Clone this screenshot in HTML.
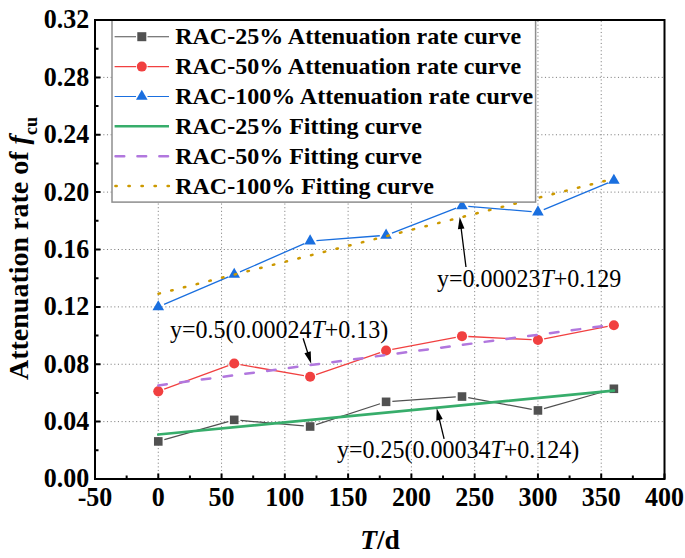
<!DOCTYPE html><html><head><meta charset="utf-8"><style>html,body{margin:0;padding:0;background:#fff;overflow:hidden;}svg{display:block;}text{font-family:"Liberation Serif",serif;}</style></head><body>
<svg width="685" height="558" viewBox="0 0 685 558">
<rect width="685" height="558" fill="#fff"/>
<path d="M158.28 21.0V478.0M221.56 21.0V478.0M284.83 21.0V478.0M348.11 21.0V478.0M411.39 21.0V478.0M474.67 21.0V478.0M537.94 21.0V478.0M601.22 21.0V478.0M96.0 421.62H663.5M96.0 364.25H663.5M96.0 306.88H663.5M96.0 249.50H663.5M96.0 192.12H663.5M96.0 134.75H663.5M96.0 77.38H663.5" stroke="#808080" stroke-width="1" stroke-dasharray="1.1 2.55" fill="none"/>
<path d="M164.34 439.70L228.15 421.57M240.49 420.40L303.87 425.95M316.14 424.56L380.09 403.78M392.36 401.39L455.73 396.99M468.21 397.69L531.75 409.30M544.00 408.71L607.82 390.51" fill="none" stroke="#515151" stroke-width="1.25"/>
<path d="M164.19 389.19L228.30 365.70M240.42 364.61L303.94 375.68M316.10 374.70L380.12 352.55M392.27 349.33L455.82 337.36M468.30 336.51L531.65 339.69M544.13 338.81L607.69 326.44" fill="none" stroke="#F14040" stroke-width="1.3"/>
<path d="M164.07 304.40L228.42 276.93M239.98 271.92L304.38 243.58M316.43 240.56L379.80 235.77M391.95 233.02L456.14 208.17M468.29 206.41L531.67 211.55M543.76 209.64L608.06 182.79" fill="none" stroke="#1A6FDF" stroke-width="1.3"/>
<rect x="153.98" y="437.12" width="8.6" height="8.6" fill="#515151"/>
<rect x="229.91" y="415.55" width="8.6" height="8.6" fill="#515151"/>
<rect x="305.84" y="422.20" width="8.6" height="8.6" fill="#515151"/>
<rect x="381.78" y="397.53" width="8.6" height="8.6" fill="#515151"/>
<rect x="457.71" y="392.25" width="8.6" height="8.6" fill="#515151"/>
<rect x="533.64" y="406.14" width="8.6" height="8.6" fill="#515151"/>
<rect x="609.58" y="384.48" width="8.6" height="8.6" fill="#515151"/>
<circle cx="158.28" cy="391.36" r="5.05" fill="#F14040"/>
<circle cx="234.21" cy="363.53" r="5.05" fill="#F14040"/>
<circle cx="310.14" cy="376.76" r="5.05" fill="#F14040"/>
<circle cx="386.08" cy="350.49" r="5.05" fill="#F14040"/>
<circle cx="462.01" cy="336.19" r="5.05" fill="#F14040"/>
<circle cx="537.94" cy="340.01" r="5.05" fill="#F14040"/>
<circle cx="613.88" cy="325.24" r="5.05" fill="#F14040"/>
<path d="M158.28 300.14L164.08 310.24L152.48 310.24Z" fill="#1A6FDF"/>
<path d="M234.21 267.72L240.01 277.82L228.41 277.82Z" fill="#1A6FDF"/>
<path d="M310.14 234.30L315.94 244.40L304.34 244.40Z" fill="#1A6FDF"/>
<path d="M386.08 228.57L391.88 238.67L380.28 238.67Z" fill="#1A6FDF"/>
<path d="M462.01 199.16L467.81 209.26L456.21 209.26Z" fill="#1A6FDF"/>
<path d="M537.94 205.33L543.74 215.43L532.14 215.43Z" fill="#1A6FDF"/>
<path d="M613.88 173.63L619.68 183.73L608.08 183.73Z" fill="#1A6FDF"/>
<line x1="158.28" y1="434.53" x2="613.88" y2="390.64" stroke="#37AD6B" stroke-width="2.7" stroke-dasharray="none" stroke-linecap="round"/>
<line x1="158.28" y1="385.40" x2="613.88" y2="324.63" stroke="#B177DE" stroke-width="2.5" stroke-dasharray="8.6 13.35" stroke-linecap="round"/>
<line x1="158.28" y1="293.80" x2="613.88" y2="178.67" stroke="#CC9900" stroke-width="2.5" stroke-dasharray="1.5 11.61" stroke-linecap="round" stroke-dashoffset="-0.2"/>
<rect x="112.0" y="20.0" width="423.6" height="182.1" fill="#fff" stroke="#8e8e8e" stroke-width="1.5"/>
<path d="M114.6 36.7H136.0M147.5 36.7H169.0" stroke="#515151" stroke-width="1.15" fill="none"/>
<rect x="137.30" y="32.20" width="9.0" height="9.0" fill="#515151"/>
<path d="M114.6 66.6H136.0M147.5 66.6H169.0" stroke="#F14040" stroke-width="1.15" fill="none"/>
<circle cx="141.80" cy="66.60" r="5.0" fill="#F14040"/>
<path d="M114.6 96.5H136.0M147.5 96.5H169.0" stroke="#1A6FDF" stroke-width="1.15" fill="none"/>
<path d="M141.80 89.77L147.60 99.87L136.00 99.87Z" fill="#1A6FDF"/>
<line x1="114.6" y1="126.3" x2="169.0" y2="126.3" stroke="#37AD6B" stroke-width="2.6"/>
<line x1="115.5" y1="156.2" x2="169.0" y2="156.2" stroke="#B177DE" stroke-width="2.4" stroke-linecap="round" stroke-dasharray="8.8 13.1"/>
<line x1="115.39999999999999" y1="186.0" x2="169.0" y2="186.0" stroke="#CC9900" stroke-width="2.5" stroke-linecap="round" stroke-dasharray="1.3 11.75"/>
<text x="175.2" y="44.30" font-size="24" font-weight="bold">RAC-25% Attenuation rate curve</text>
<text x="175.2" y="74.20" font-size="24" font-weight="bold">RAC-50% Attenuation rate curve</text>
<text x="175.2" y="104.10" font-size="24" font-weight="bold">RAC-100% Attenuation rate curve</text>
<text x="175.2" y="134.10" font-size="24" font-weight="bold">RAC-25% Fitting curve</text>
<text x="175.2" y="163.60" font-size="24" font-weight="bold">RAC-50% Fitting curve</text>
<text x="175.2" y="193.50" font-size="24" font-weight="bold">RAC-100% Fitting curve</text>
<rect x="95.0" y="20.0" width="569.5" height="459.0" fill="none" stroke="#000" stroke-width="2"/>
<path d="M95.00 479.0V473.5M126.64 479.0V475.5M158.28 479.0V473.5M189.92 479.0V475.5M221.56 479.0V473.5M253.19 479.0V475.5M284.83 479.0V473.5M316.47 479.0V475.5M348.11 479.0V473.5M379.75 479.0V475.5M411.39 479.0V473.5M443.03 479.0V475.5M474.67 479.0V473.5M506.31 479.0V475.5M537.94 479.0V473.5M569.58 479.0V475.5M601.22 479.0V473.5M632.86 479.0V475.5M664.50 479.0V473.5M95.0 479.00H100.5M95.0 450.31H98.5M95.0 421.62H100.5M95.0 392.94H98.5M95.0 364.25H100.5M95.0 335.56H98.5M95.0 306.88H100.5M95.0 278.19H98.5M95.0 249.50H100.5M95.0 220.81H98.5M95.0 192.12H100.5M95.0 163.44H98.5M95.0 134.75H100.5M95.0 106.06H98.5M95.0 77.38H100.5M95.0 48.69H98.5M95.0 20.00H100.5" stroke="#000" stroke-width="2" fill="none"/>
<text transform="translate(95.00,505.6) scale(1,1.06)" font-size="26" font-weight="bold" text-anchor="middle">-50</text>
<text transform="translate(158.28,505.6) scale(1,1.06)" font-size="26" font-weight="bold" text-anchor="middle">0</text>
<text transform="translate(221.56,505.6) scale(1,1.06)" font-size="26" font-weight="bold" text-anchor="middle">50</text>
<text transform="translate(284.83,505.6) scale(1,1.06)" font-size="26" font-weight="bold" text-anchor="middle">100</text>
<text transform="translate(348.11,505.6) scale(1,1.06)" font-size="26" font-weight="bold" text-anchor="middle">150</text>
<text transform="translate(411.39,505.6) scale(1,1.06)" font-size="26" font-weight="bold" text-anchor="middle">200</text>
<text transform="translate(474.67,505.6) scale(1,1.06)" font-size="26" font-weight="bold" text-anchor="middle">250</text>
<text transform="translate(537.94,505.6) scale(1,1.06)" font-size="26" font-weight="bold" text-anchor="middle">300</text>
<text transform="translate(601.22,505.6) scale(1,1.06)" font-size="26" font-weight="bold" text-anchor="middle">350</text>
<text transform="translate(664.50,505.6) scale(1,1.06)" font-size="26" font-weight="bold" text-anchor="middle">400</text>
<text transform="translate(89.3,487.40) scale(1,1.06)" font-size="26" font-weight="bold" text-anchor="end">0.00</text>
<text transform="translate(89.3,430.02) scale(1,1.06)" font-size="26" font-weight="bold" text-anchor="end">0.04</text>
<text transform="translate(89.3,372.65) scale(1,1.06)" font-size="26" font-weight="bold" text-anchor="end">0.08</text>
<text transform="translate(89.3,315.27) scale(1,1.06)" font-size="26" font-weight="bold" text-anchor="end">0.12</text>
<text transform="translate(89.3,257.90) scale(1,1.06)" font-size="26" font-weight="bold" text-anchor="end">0.16</text>
<text transform="translate(89.3,200.52) scale(1,1.06)" font-size="26" font-weight="bold" text-anchor="end">0.20</text>
<text transform="translate(89.3,143.15) scale(1,1.06)" font-size="26" font-weight="bold" text-anchor="end">0.24</text>
<text transform="translate(89.3,85.78) scale(1,1.06)" font-size="26" font-weight="bold" text-anchor="end">0.28</text>
<text transform="translate(89.3,28.40) scale(1,1.06)" font-size="26" font-weight="bold" text-anchor="end">0.32</text>
<text x="380" y="548.5" font-size="27.5" font-weight="bold" text-anchor="middle"><tspan font-style="italic">T</tspan>/d</text>
<text transform="translate(28.3,380) rotate(-90)" font-size="28" font-weight="bold">Attenuation rate of <tspan font-style="italic">f</tspan><tspan font-size="18" dy="8.5">cu</tspan></text>
<text transform="translate(437,286.6) scale(1,1.06)" font-size="24">y=0.00023<tspan font-style="italic">T</tspan>+0.129</text>
<text transform="translate(170,337.5) scale(1,1.06)" font-size="24">y=0.5(0.00024<tspan font-style="italic">T</tspan>+0.13)</text>
<text transform="translate(337,458.2) scale(1,1.06)" font-size="24">y=0.25(0.00034<tspan font-style="italic">T</tspan>+0.124)</text>
<line x1="466.00" y1="267.00" x2="460.95" y2="226.92" stroke="#000" stroke-width="1.3"/><path d="M459.70 217.00L464.47 228.49L457.93 229.32Z" fill="#000"/>
<line x1="303.10" y1="338.20" x2="308.18" y2="354.27" stroke="#000" stroke-width="1.3"/><path d="M311.20 363.80L304.43 353.35L310.73 351.36Z" fill="#000"/>
<line x1="444.10" y1="438.90" x2="439.04" y2="417.92" stroke="#000" stroke-width="1.3"/><path d="M436.70 408.20L442.72 419.09L436.30 420.64Z" fill="#000"/>
</svg></body></html>
